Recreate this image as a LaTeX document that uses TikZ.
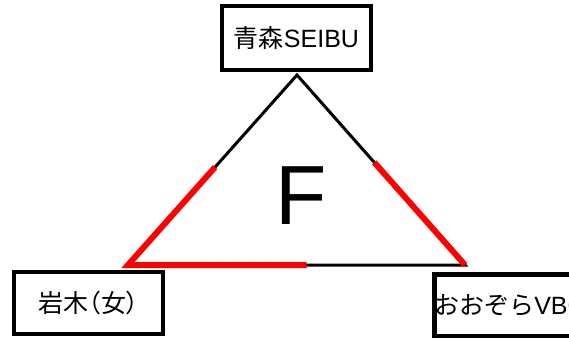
\documentclass[tikz,border=0pt]{standalone}
\usepackage{fontspec}
\setmainfont{Liberation Sans}
\newfontfamily\cjk{Noto Sans CJK JP}
\newfontfamily\cjkp{Noto Sans CJK JP}[RawFeature=+palt]
\usetikzlibrary{calc}
\begin{document}
\begin{tikzpicture}[x=1pt,y=-1pt,
  box/.style={draw=black,line width=4.5pt,rectangle,inner sep=0pt,font=\fontsize{25}{25}\selectfont},
  edge/.style={draw=black,line width=3pt,line join=miter},
  hot/.style={draw=red,line width=6pt,line join=miter}]
\useasboundingbox (0,0) rectangle (569,337);
\node[box,minimum width=149pt,minimum height=64pt] (top) at (296.5,38) {{\cjk 青森}SEIBU};
\node[box,minimum width=149pt,minimum height=62pt] (left) at (88.5,303) {\cjk 岩木{\cjkp （}女{\cjkp ）}};
\node[box,anchor=north west,minimum height=62pt,text width=168pt,align=left] (right) at (432,272) {{\cjk おおぞら}VBC};
\coordinate (A) at (297,75);
\coordinate (B) at (128,265);
\coordinate (C) at (465,265);
\draw[edge] (A) -- (B) -- (C) -- cycle;
\draw[hot] ($(B)!0.515!(A)$) -- (B) -- ($(B)!0.53!(C)$);
\draw[hot] (C) -- ($(C)!0.54!(A)$);
\node[font=\fontsize{84}{84}\selectfont,inner sep=0pt] (F) at (301,196) {F};
\end{tikzpicture}
\end{document}
